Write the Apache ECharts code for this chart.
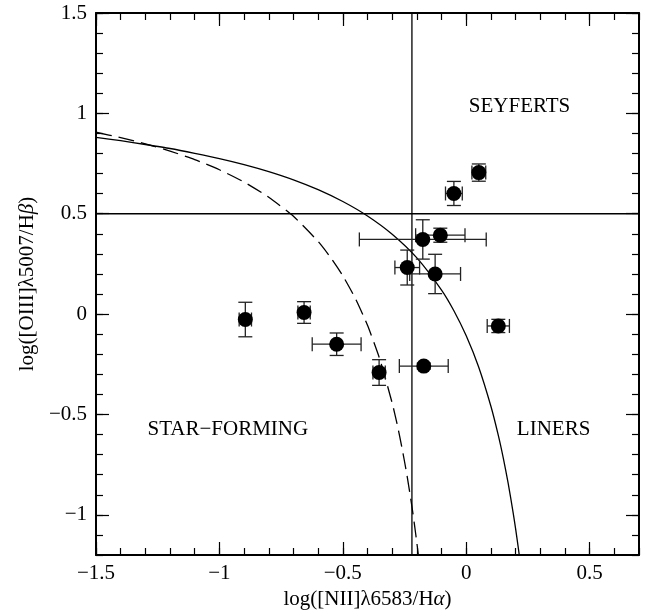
<!DOCTYPE html>
<html>
<head>
<meta charset="utf-8">
<script src="https://cdn.jsdelivr.net/npm/echarts@6/dist/echarts.min.js"></script>
<style>
html,body{margin:0;padding:0;background:#fff;}
#chart{width:645px;height:616px;}
</style>
</head>
<body>
<div id="chart"></div>
<script>
// ---- data ----
var galaxyX    = [0.051, -0.050, -0.176, -0.105, -0.239, -0.126, 0.130, -0.172, -0.353, -0.895, -0.657, -0.525];
var galaxyY    = [0.705, 0.601, 0.372, 0.393, 0.232, 0.200, -0.059, -0.259, -0.291, -0.027, 0.008, -0.150];
var galaxyXErr = [0.028, 0.034, 0.257, 0.100, 0.050, 0.103, 0.045, 0.099, 0.025, 0.025, 0.025, 0.099];
var galaxyYErr = [0.043, 0.060, 0.098, 0.035, 0.087, 0.098, 0.033, 0.015, 0.064, 0.086, 0.054, 0.056];

// dashed demarcation curve
var dashedX = [-1.5, -1.4, -1.3, -1.2, -1.1, -1.0, -0.9, -0.8, -0.7, -0.6, -0.55, -0.5, -0.45, -0.4, -0.35, -0.3, -0.28, -0.26, -0.24, -0.22, -0.21, -0.20, -0.194];
var dashedY = [0.906, 0.879, 0.848, 0.812, 0.770, 0.719, 0.658, 0.582, 0.487, 0.362, 0.283, 0.191, 0.080, -0.056, -0.225, -0.443, -0.548, -0.668, -0.803, -0.959, -1.046, -1.140, -1.2];

// solid demarcation curve
var solidX = [-1.5, -1.4, -1.3, -1.2, -1.1, -1.0, -0.9, -0.8, -0.7, -0.6, -0.5, -0.4, -0.3, -0.2, -0.1, -0.05, 0.0, 0.05, 0.1, 0.13, 0.15, 0.17, 0.19, 0.20, 0.21, 0.2148];
var solidY = [0.880, 0.864, 0.845, 0.825, 0.801, 0.775, 0.745, 0.710, 0.669, 0.620, 0.561, 0.489, 0.398, 0.280, 0.120, 0.017, -0.108, -0.262, -0.459, -0.604, -0.716, -0.843, -0.989, -1.069, -1.156, -1.2];

// divider lines
var vLineX = [-0.22, -0.22];
var vLineY = [-1.2, 1.5];
var hLineX = [-1.5, 0.7];
var hLineY = [0.5, 0.5];

// region labels
var regionNames = ['SEYFERTS', 'STAR\u2212FORMING', 'LINERS'];
var regionX = [0.216, -0.966, 0.354];
var regionY = [1.035, -0.573, -0.573];

// axes ticks
var xMin = -1.5, xMax = 0.7, yMin = -1.2, yMax = 1.5;
var xMajorTicks = [-1.5, -1, -0.5, 0, 0.5];
var xMinorTicks = [-1.5,-1.4,-1.3,-1.2,-1.1,-1.0,-0.9,-0.8,-0.7,-0.6,-0.5,-0.4,-0.3,-0.2,-0.1,0,0.1,0.2,0.3,0.4,0.5,0.6,0.7];
var yMajorTicks = [-1, -0.5, 0, 0.5, 1, 1.5];
var yMinorTicks = [-1.2,-1.1,-1.0,-0.9,-0.8,-0.7,-0.6,-0.5,-0.4,-0.3,-0.2,-0.1,0,0.1,0.2,0.3,0.4,0.5,0.6,0.7,0.8,0.9,1.0,1.1,1.2,1.3,1.4,1.5];

// ---- build ----
function zip(a, b) { return a.map(function (v, i) { return [v, b[i]]; }); }
var FONT = 'Liberation Serif';
function fmt(v) { return String(v).replace('-', '\u2212'); }

var lineStyleAxis = { color: '#000', width: 2 };

function makeAxis(kind, pos, major, withLine, withLabel, ticks, extra) {
  var a = {
    type: 'value', min: kind === 'x' ? xMin : yMin, max: kind === 'x' ? xMax : yMax,
    position: pos, offset: 0,
    splitLine: { show: false },
    axisLine: { show: withLine, onZero: false, lineStyle: lineStyleAxis },
    axisTick: { show: true, inside: true, length: major ? 13 : 7, customValues: ticks,
                lineStyle: { color: '#000', width: 1.2 } },
    axisLabel: withLabel ? { show: true, customValues: ticks, formatter: fmt, color: '#000',
                fontFamily: FONT, fontSize: 21, margin: kind === 'x' ? 8 : 9 } : { show: false }
  };
  if (extra) for (var k in extra) a[k] = extra[k];
  return a;
}

var errData = galaxyX.map(function (x, i) { return [x, galaxyY[i], galaxyXErr[i], galaxyYErr[i]]; });

var option = {
  animation: false,
  backgroundColor: '#fff',
  grid: { left: 96, top: 13, width: 543, height: 542, containLabel: false },
  xAxis: [
    makeAxis('x', 'bottom', true, true, true, xMajorTicks, {
      name: '{t|log([NII]\u03bb6583/H}{i|\u03b1}{t|)}', nameLocation: 'middle', nameGap: 33,
      nameTextStyle: { rich: {
        t: { fontFamily: FONT, fontSize: 21, color: '#000' },
        i: { fontFamily: FONT, fontSize: 21, fontStyle: 'italic', color: '#000' } } }
    }),
    makeAxis('x', 'bottom', false, false, false, xMinorTicks),
    makeAxis('x', 'top', true, true, false, xMajorTicks),
    makeAxis('x', 'top', false, false, false, xMinorTicks)
  ],
  yAxis: [
    makeAxis('y', 'left', true, true, true, yMajorTicks, {
      name: '{t|log([OIII]\u03bb5007/H}{i|\u03b2}{t|)}', nameLocation: 'middle', nameGap: 57,
      nameRotate: 90,
      nameTextStyle: { rich: {
        t: { fontFamily: FONT, fontSize: 21, color: '#000' },
        i: { fontFamily: FONT, fontSize: 21, fontStyle: 'italic', color: '#000' } } }
    }),
    makeAxis('y', 'left', false, false, false, yMinorTicks),
    makeAxis('y', 'right', true, true, false, yMajorTicks),
    makeAxis('y', 'right', false, false, false, yMinorTicks)
  ],
  series: [
    { type: 'line', data: zip(vLineX, vLineY), symbol: 'none', silent: true,
      lineStyle: { color: '#000', width: 1.3 }, z: 2 },
    { type: 'line', data: zip(hLineX, hLineY), symbol: 'none', silent: true,
      lineStyle: { color: '#000', width: 1.3 }, z: 2 },
    { type: 'line', data: zip(dashedX, dashedY), symbol: 'none', smooth: 0.2, silent: true,
      lineStyle: { color: '#000', width: 1.3, type: [16, 7] }, z: 2 },
    { type: 'line', data: zip(solidX, solidY), symbol: 'none', smooth: 0.2, silent: true,
      lineStyle: { color: '#000', width: 1.3 }, z: 2 },
    { type: 'custom', data: errData, z: 3, silent: true,
      encode: { x: 0, y: 1 },
      renderItem: function (params, api) {
        var x = api.value(0), y = api.value(1), xe = api.value(2), ye = api.value(3);
        var l = api.coord([x - xe, y]), r = api.coord([x + xe, y]);
        var b = api.coord([x, y - ye]), t = api.coord([x, y + ye]);
        var c = 7;
        var st = { stroke: '#222', lineWidth: 1.3 };
        function ln(x1, y1, x2, y2) { return { type: 'line', shape: { x1: x1, y1: y1, x2: x2, y2: y2 }, style: st }; }
        return { type: 'group', children: [
          ln(l[0], l[1], r[0], r[1]),
          ln(l[0], l[1] - c, l[0], l[1] + c),
          ln(r[0], r[1] - c, r[0], r[1] + c),
          ln(b[0], b[1], t[0], t[1]),
          ln(b[0] - c, b[1], b[0] + c, b[1]),
          ln(t[0] - c, t[1], t[0] + c, t[1])
        ] };
      }
    },
    { type: 'scatter', data: zip(galaxyX, galaxyY), symbol: 'circle', symbolSize: 15,
      itemStyle: { color: '#000', opacity: 1 }, z: 4, silent: true },
    { type: 'scatter', symbolSize: 0, silent: true, z: 5,
      data: regionNames.map(function (n, i) { return { value: [regionX[i], regionY[i]], name: n }; }),
      itemStyle: { opacity: 1 },
      label: { show: true, position: 'inside', formatter: '{b}', color: '#000', opacity: 1,
               fontFamily: FONT, fontSize: 21 } }
  ]
};

var chart = echarts.init(document.getElementById('chart'), null, { renderer: 'canvas' });
chart.setOption(option);
</script>
</body>
</html>
